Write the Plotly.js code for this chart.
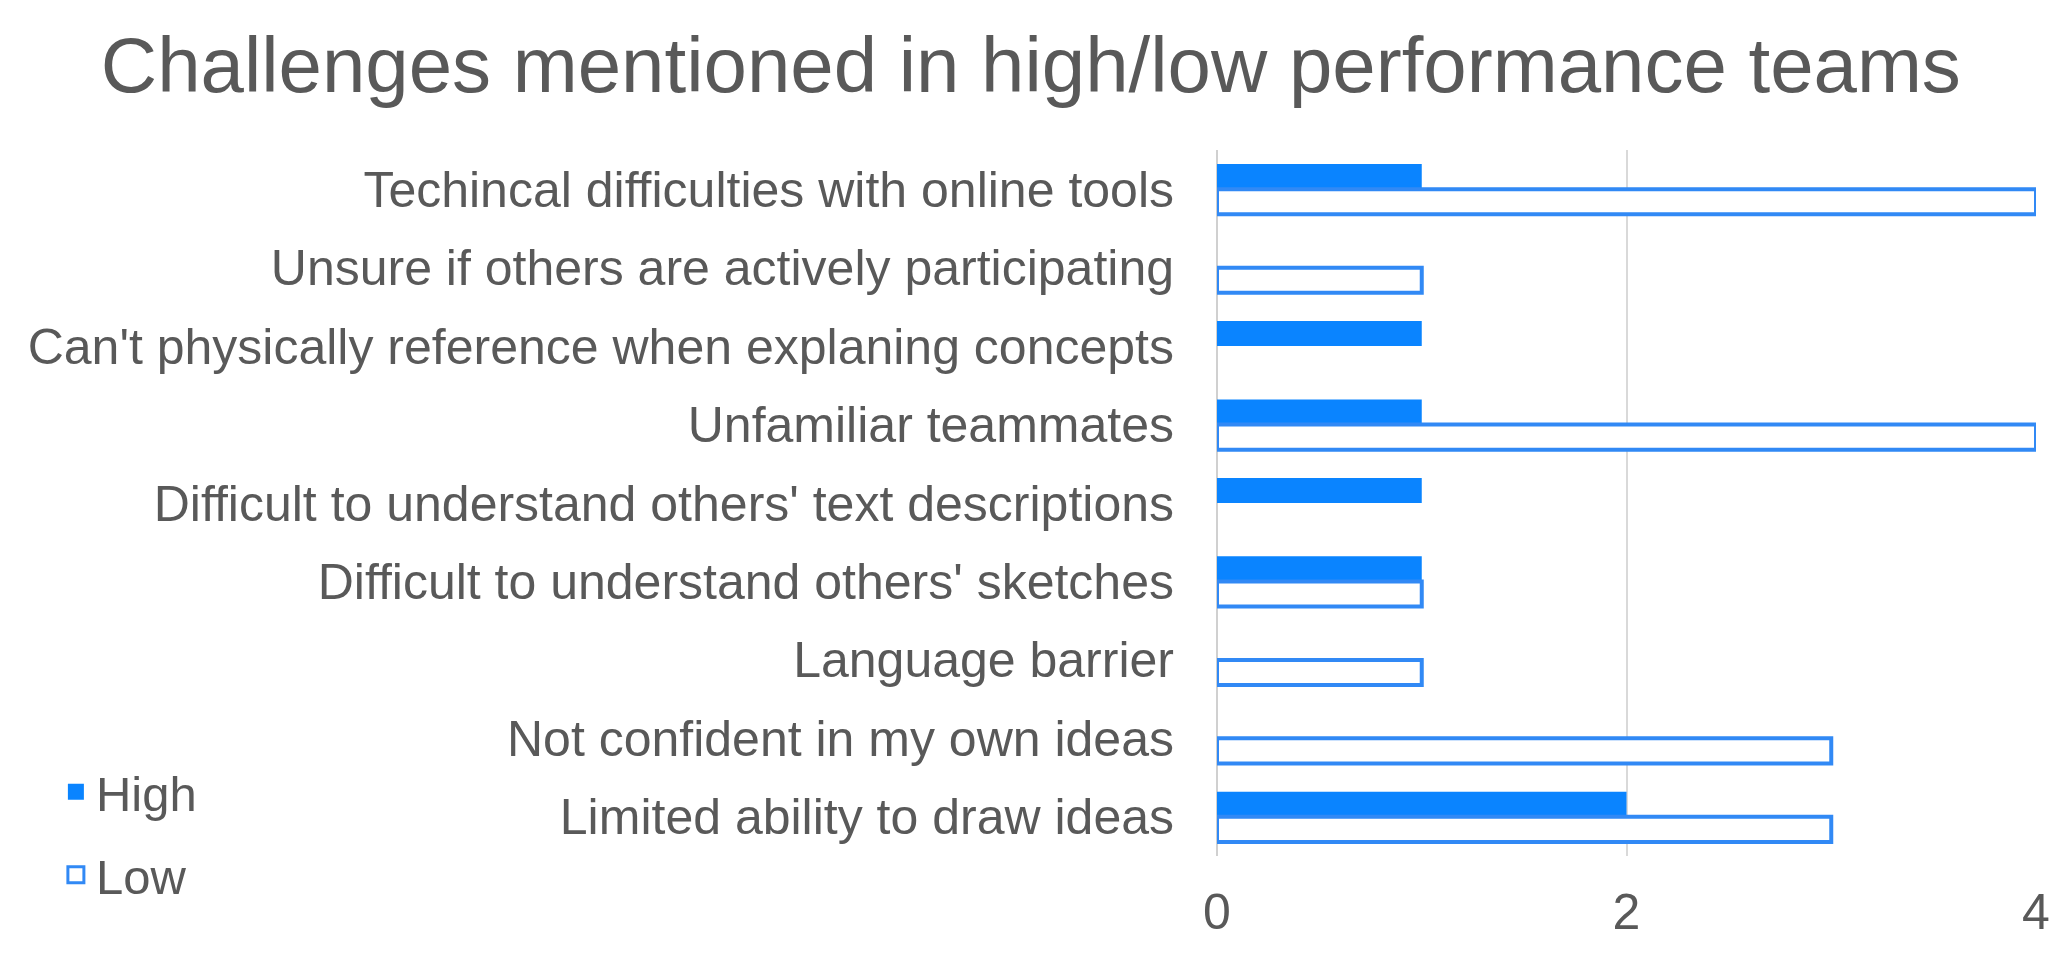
<!DOCTYPE html>
<html>
<head>
<meta charset="utf-8">
<script src="https://cdn.plot.ly/plotly-3.0.1.min.js"></script>
<style>
  html, body { margin: 0; padding: 0; background: #fff; }
  #chart { width: 2070px; height: 955px; }
</style>
</head>
<body>
<div id="chart"></div>
<script>
// Challenges mentioned in high/low performance teams
const challenges = [
    'Techincal difficulties with online tools',
    'Unsure if others are actively participating',
    "Can't physically reference when explaning concepts",
    'Unfamiliar teammates',
    "Difficult to understand others' text descriptions",
    "Difficult to understand others' sketches",
    'Language barrier',
    'Not confident in my own ideas',
    'Limited ability to draw ideas'
];
const highCounts = [1, 0, 1, 1, 1, 1, 0, 0, 2];
const lowCounts = [4, 1, 0, 4, 0, 1, 1, 3, 3];
const xTicks = [0, 2, 4];

const blue = '#0a84ff';
const outline = '#3189f5';
const textGray = '#595959';
const fontFamily = '"Liberation Sans", Arial, sans-serif';

// zero counts get no bar at all (otherwise the outline leaves a sliver at 0)
const noZero = arr => arr.map(v => (v === 0 ? null : v));

const highTrace = {
    type: 'bar',
    orientation: 'h',
    name: 'High',
    y: challenges,
    x: noZero(highCounts),
    marker: { color: blue, line: { width: 0 } },
    showlegend: false
};

const lowTrace = {
    type: 'bar',
    orientation: 'h',
    name: 'Low',
    y: challenges,
    x: noZero(lowCounts),
    marker: { color: '#ffffff', line: { color: outline, width: 4 } },
    showlegend: false
};

// legend entries with bigger square keys than the bar legend icon
const highKey = {
    type: 'scatter', mode: 'markers', name: 'High',
    x: [null], y: [null],
    marker: { symbol: 'square', size: 16, color: blue },
    legend: 'legend'
};
const lowKey = {
    type: 'scatter', mode: 'markers', name: 'Low',
    x: [null], y: [null],
    marker: { symbol: 'square', size: 16, color: '#ffffff', line: { color: outline, width: 3 } },
    legend: 'legend2'
};

const legendFont = { family: fontFamily, size: 49, color: textGray };

const layout = {
    width: 2070,
    height: 955,
    paper_bgcolor: '#ffffff',
    plot_bgcolor: '#ffffff',
    font: { family: fontFamily, color: textGray, size: 49 },
    title: {
        text: 'Challenges mentioned in high/low performance teams',
        font: { family: fontFamily, size: 78, color: textGray },
        x: 0.498,
        xanchor: 'center',
        y: 0.932,
        yanchor: 'middle'
    },
    margin: { l: 1217, r: 34, t: 150, b: 99 },
    barmode: 'group',
    bargap: 0.36,
    bargroupgap: 0,
    xaxis: {
        range: [0, 4],
        tickvals: xTicks,
        ticktext: xTicks.map(String),
        showgrid: true,
        gridcolor: '#d9d9d9',
        gridwidth: 2,
        zeroline: true,
        zerolinecolor: '#d0d0d0',
        zerolinewidth: 2,
        showline: false,
        ticks: '',
        ticklabelstandoff: 22,
        tickfont: { family: fontFamily, size: 50, color: textGray }
    },
    yaxis: {
        type: 'category',
        autorange: 'reversed',
        showgrid: false,
        zeroline: false,
        showline: false,
        ticks: '',
        ticklabelstandoff: 42,
        tickfont: { family: fontFamily, size: 50, color: textGray }
    },
    legend: {
        xref: 'container', yref: 'container',
        x: 0.027, y: 1 - 792 / 955,
        xanchor: 'left', yanchor: 'middle',
        bgcolor: 'rgba(0,0,0,0)',
        font: legendFont
    },
    legend2: {
        xref: 'container', yref: 'container',
        x: 0.027, y: 1 - 875 / 955,
        xanchor: 'left', yanchor: 'middle',
        bgcolor: 'rgba(0,0,0,0)',
        font: legendFont
    },
    showlegend: true
};

try {
    Plotly.newPlot('chart', [highTrace, lowTrace, highKey, lowKey], layout, { displayModeBar: false, responsive: false });
} catch (error) {
    console.error('Error creating chart:', error);
}
</script>
</body>
</html>
